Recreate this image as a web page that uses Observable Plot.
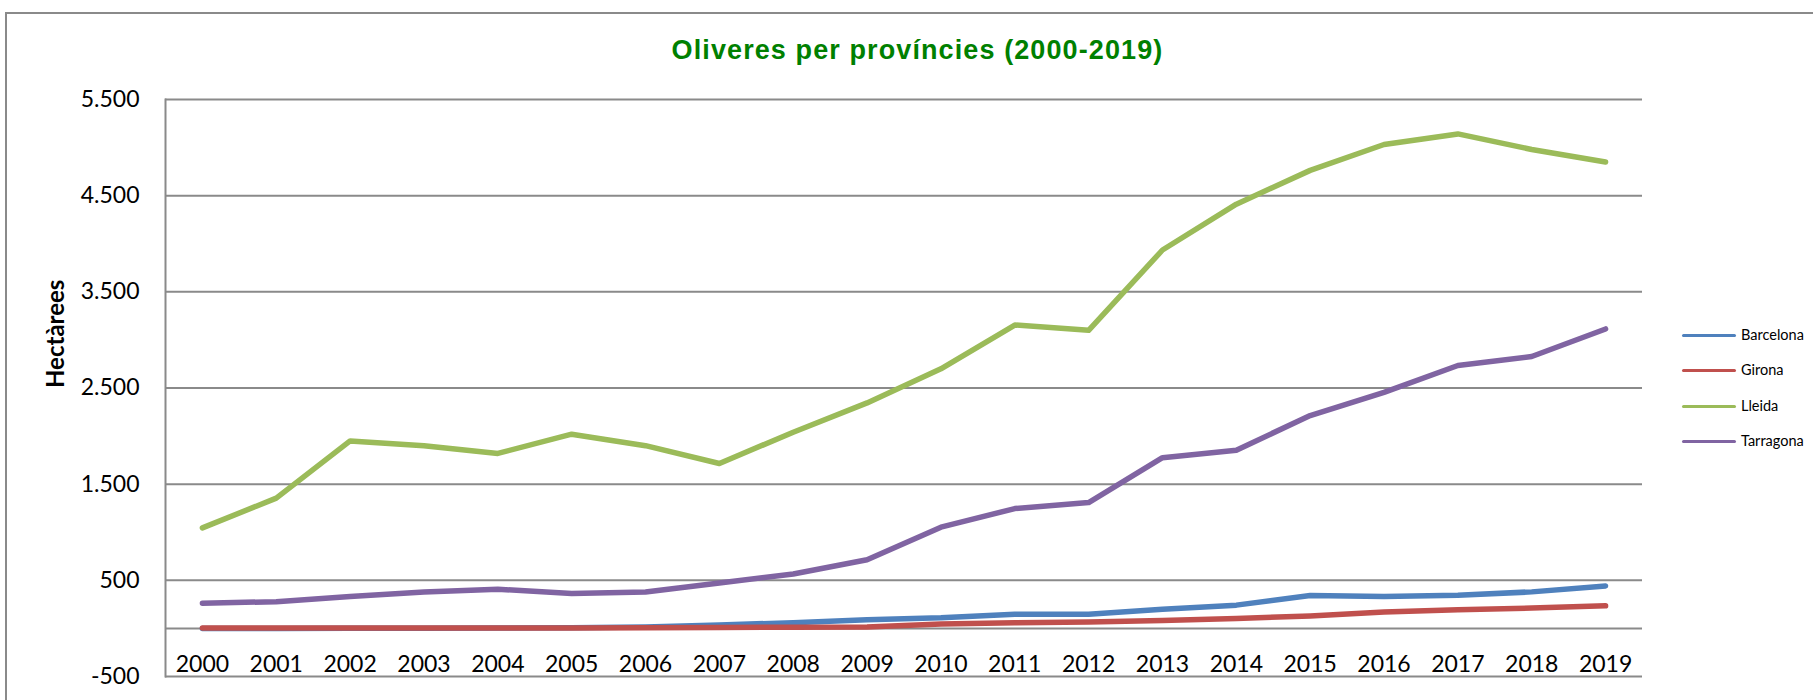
<!DOCTYPE html>
<html>
<head>
<meta charset="utf-8">
<script src="https://cdn.jsdelivr.net/npm/d3@7"></script>
<script src="https://cdn.jsdelivr.net/npm/@observablehq/plot@0.6"></script>
<style>
  html, body { margin: 0; padding: 0; background: #fff; }
  #wrap { position: relative; width: 1813px; height: 700px; overflow: hidden; background: #fff; }
  #border { position: absolute; left: 5px; top: 12px; width: 2000px; height: 2000px;
            border-left: 2px solid #8a8a8a; border-top: 2px solid #8a8a8a; }
  #title { position: absolute; left: 11px; top: 35px; width: 1813px; height: 30px; line-height: 30px;
           text-align: center; font-family: "Liberation Sans", Arial, sans-serif; font-weight: bold;
           font-size: 27px; letter-spacing: 1.1px; color: #008000; }
  #chart { position: absolute; left: 0; top: 0; }
  .lg { position: absolute; left: 1682px; font-family: Lato, sans-serif; font-size: 14.5px; color: #000; }
  .lg .sw { position: absolute; left: 0; top: -1.5px; width: 54px; height: 3px; border-radius: 2px; }
  .lg .tx { position: absolute; left: 59px; top: -10px; line-height: 20px; white-space: nowrap; }
</style>
</head>
<body>
<div id="wrap">
  <div id="border"></div>
  <div id="chart"></div>
  <div id="title">Oliveres per províncies (2000-2019)</div>
  <div id="legend"></div>
</div>
<script>
// ---- data ----
const years = ["2000","2001","2002","2003","2004","2005","2006","2007","2008","2009",
               "2010","2011","2012","2013","2014","2015","2016","2017","2018","2019"];
const provinces = ["Barcelona", "Girona", "Lleida", "Tarragona"];
const colors = ["#4F81BD", "#C0504D", "#9BBB59", "#8064A2"];
const barcelona = [0, 0, 2, 3, 5, 8, 15, 35, 60, 90, 110, 148, 148, 200, 242, 342, 333, 346, 380, 442];
const girona    = [5, 5, 5, 5, 5, 5, 8, 10, 12, 15, 45, 58, 68, 83, 103, 130, 170, 195, 212, 235];
const lleida    = [1045, 1355, 1950, 1900, 1820, 2020, 1900, 1715, 2040, 2345,
                   2700, 3155, 3100, 3935, 4412, 4763, 5032, 5142, 4980, 4850];
const tarragona = [262, 278, 332, 378, 408, 362, 378, 472, 566, 714,
                   1053, 1246, 1309, 1775, 1853, 2214, 2455, 2734, 2828, 3114];
const yTicks = [-500, 500, 1500, 2500, 3500, 4500, 5500];
const yAxisTitle = "Hectàrees";

const seriesValues = [barcelona, girona, lleida, tarragona];
const data = provinces.flatMap((p, k) =>
  years.map((yr, i) => ({ year: yr, value: seriesValues[k][i], province: p })));

const locale = d3.formatLocale({ decimal: ",", thousands: ".", grouping: [3], currency: ["", ""], minus: "-" });
const fmt = locale.format(",d");

const grid = "#8a8a8a";

const chart = Plot.plot({
  width: 1813,
  height: 700,
  marginLeft: 165,
  marginRight: 171,
  marginTop: 99,
  marginBottom: 24,
  style: { fontFamily: "Lato, sans-serif", fontSize: "23px", color: "#000", background: "transparent" },
  x: { type: "point", domain: years, padding: 0.5, round: false, label: null },
  y: { domain: [-500, 5500], label: null },
  color: { domain: provinces, range: colors },
  marks: [
    Plot.ruleY(yTicks, { stroke: grid, strokeWidth: 2 }),
    Plot.ruleY([0], { stroke: grid, strokeWidth: 2 }),
    Plot.frame({ anchor: "left", stroke: grid, strokeWidth: 2 }),
    Plot.axisY({ ticks: yTicks, tickSize: 0, tickPadding: 26, tickFormat: fmt, label: null, fill: "#000" }),
    Plot.axisX({ tickSize: 0, tickPadding: 0, dy: -21, label: null, fill: "#000" }),
    Plot.text([yAxisTitle], { frameAnchor: "left", rotate: -90, dx: -109, fontWeight: "bold", fontSize: 24, fill: "#000" }),
    Plot.line(data, { x: "year", y: "value", z: "province", stroke: "province",
                      strokeWidth: 5.5, strokeLinecap: "round", strokeLinejoin: "round" })
  ]
});
document.getElementById("chart").appendChild(chart);

// ---- legend ----
const legendY = [335, 370, 406, 441];
const lg = document.getElementById("legend");
provinces.forEach((p, i) => {
  const d = document.createElement("div");
  d.className = "lg";
  d.style.top = legendY[i] + "px";
  d.innerHTML = `<div class="sw" style="background:${colors[i]}"></div><div class="tx">${p}</div>`;
  lg.appendChild(d);
});
</script>
</body>
</html>
